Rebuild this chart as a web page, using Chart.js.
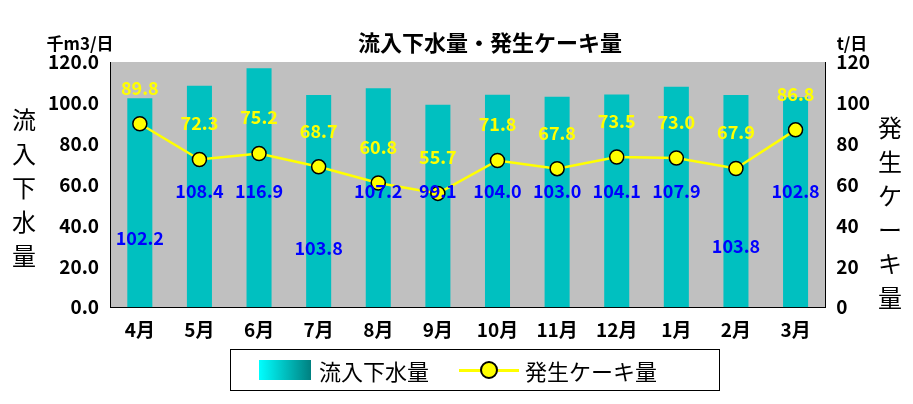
<!DOCTYPE html>
<html><head><meta charset="utf-8">
<script src="https://cdn.jsdelivr.net/npm/chart.js@4/dist/chart.umd.min.js"></script>
<style>
html,body{margin:0;padding:0;background:#fff;}
#wrap{position:relative;width:913px;height:404px;}
#legend{position:absolute;left:230px;top:349px;width:490px;height:42px;border:1.5px solid #000;box-sizing:border-box;font-family:"Noto Sans CJK JP";font-size:22px;display:flex;align-items:center;}
.sw1{display:inline-block;width:52px;height:20px;margin-left:28px;margin-right:8px;background:linear-gradient(90deg,#00ffff,#008080);}
.sw2{position:relative;display:inline-block;width:60px;height:20px;margin-left:30px;margin-right:6px;}
.sw2:before{content:"";position:absolute;left:0;right:0;top:9px;height:3px;background:#ffff00;}
.sw2:after{content:"";position:absolute;left:21px;top:1px;width:14px;height:14px;border-radius:50%;background:#ffff00;border:2px solid #000;}
</style></head><body>
<div id="wrap"><canvas id="c" width="913" height="404"></canvas>
<div id="legend"><span class="sw1"></span>流入下水量<span class="sw2"></span>発生ケーキ量</div></div>
<script>
const categories=["4月","5月","6月","7月","8月","9月","10月","11月","12月","1月","2月","3月"];
const inflow=[102.2,108.4,116.9,103.8,107.2,99.1,104.0,103.0,104.1,107.9,103.8,102.8];
const cake=[89.8,72.3,75.2,68.7,60.8,55.7,71.8,67.8,73.5,73.0,67.9,86.8];
const inflowLabelAt=[34,57,57,29,57,57,57,57,57,57,30,57];
const yTicks=[0,20,40,60,80,100,120];
const FONT='"Noto Sans CJK JP"';
const ctx=document.getElementById('c').getContext('2d');
const deco={id:'deco',
 beforeDraw(ch){const a=ch.chartArea,c=ch.ctx;c.save();c.fillStyle='#c0c0c0';c.fillRect(a.left,a.top,a.right-a.left,a.bottom-a.top);c.restore();},
 afterDatasetsDraw(ch){const c=ch.ctx;c.save();
  c.font='bold 18px '+FONT;c.textAlign='center';c.textBaseline='middle';
  const m0=ch.getDatasetMeta(0),m1=ch.getDatasetMeta(1),yl=ch.scales.y;
  m0.data.forEach((b,i)=>{c.fillStyle='#0000ff';c.fillText(inflow[i].toFixed(1),b.x,yl.getPixelForValue(inflowLabelAt[i]));});
  m1.data.forEach((p,i)=>{c.fillStyle='#ffff00';c.fillText(cake[i].toFixed(1),p.x,p.y-36);});
  c.fillStyle='#000';c.font='bold 22px '+FONT;c.fillText('流入下水量・発生ケーキ量',490,43);
  c.font='bold 17px '+FONT;c.fillText('千m3/日',80,44);c.fillText('t/日',852,44);
  c.font='24px '+FONT;
  '流入下水量'.split('').forEach((ch2,k)=>c.fillText(ch2,24,120+k*34));
  '発生ケーキ量'.split('').forEach((ch2,k)=>c.fillText(ch2,890,128+k*34));
  c.restore();}};
new Chart(ctx,{data:{labels:categories,datasets:[
 {type:'bar',data:inflow,yAxisID:'y',barPercentage:0.42,categoryPercentage:1,order:2,
  backgroundColor:(cx)=>{const el=cx.element;if(!el||!isFinite(el.x)||!isFinite(el.width)||!el.width)return '#00c0c0';const w=el.width;const g=cx.chart.ctx.createLinearGradient(el.x-w/2,0,el.x+w/2,0);g.addColorStop(0,'#00ffff');g.addColorStop(1,'#008080');return g;}},
 {type:'line',data:cake,yAxisID:'y1',order:1,borderColor:'#ffff00',borderWidth:2.5,pointRadius:7,pointBackgroundColor:'#ffff00',pointBorderColor:'#000',pointBorderWidth:1.5}]},
 options:{responsive:false,animation:false,layout:{padding:{top:62,bottom:60,left:45,right:40}},
  plugins:{legend:{display:false},tooltip:{enabled:false}},
  scales:{x:{grid:{display:false},border:{color:'#000'},ticks:{color:'#000',font:{family:FONT,size:19,weight:'bold'}}},
   y:{min:0,max:120,afterBuildTicks:s=>{s.ticks=yTicks.map(v=>({value:v}));},grid:{display:false},border:{color:'#000'},ticks:{color:'#000',font:{family:FONT,size:19,weight:'bold'},callback:v=>v.toFixed(1)}},
   y1:{position:'right',min:0,max:120,afterBuildTicks:s=>{s.ticks=yTicks.map(v=>({value:v}));},grid:{display:false},border:{color:'#000'},ticks:{color:'#000',font:{family:FONT,size:19,weight:'bold'}}}}},
 plugins:[deco]});
</script></body></html>
